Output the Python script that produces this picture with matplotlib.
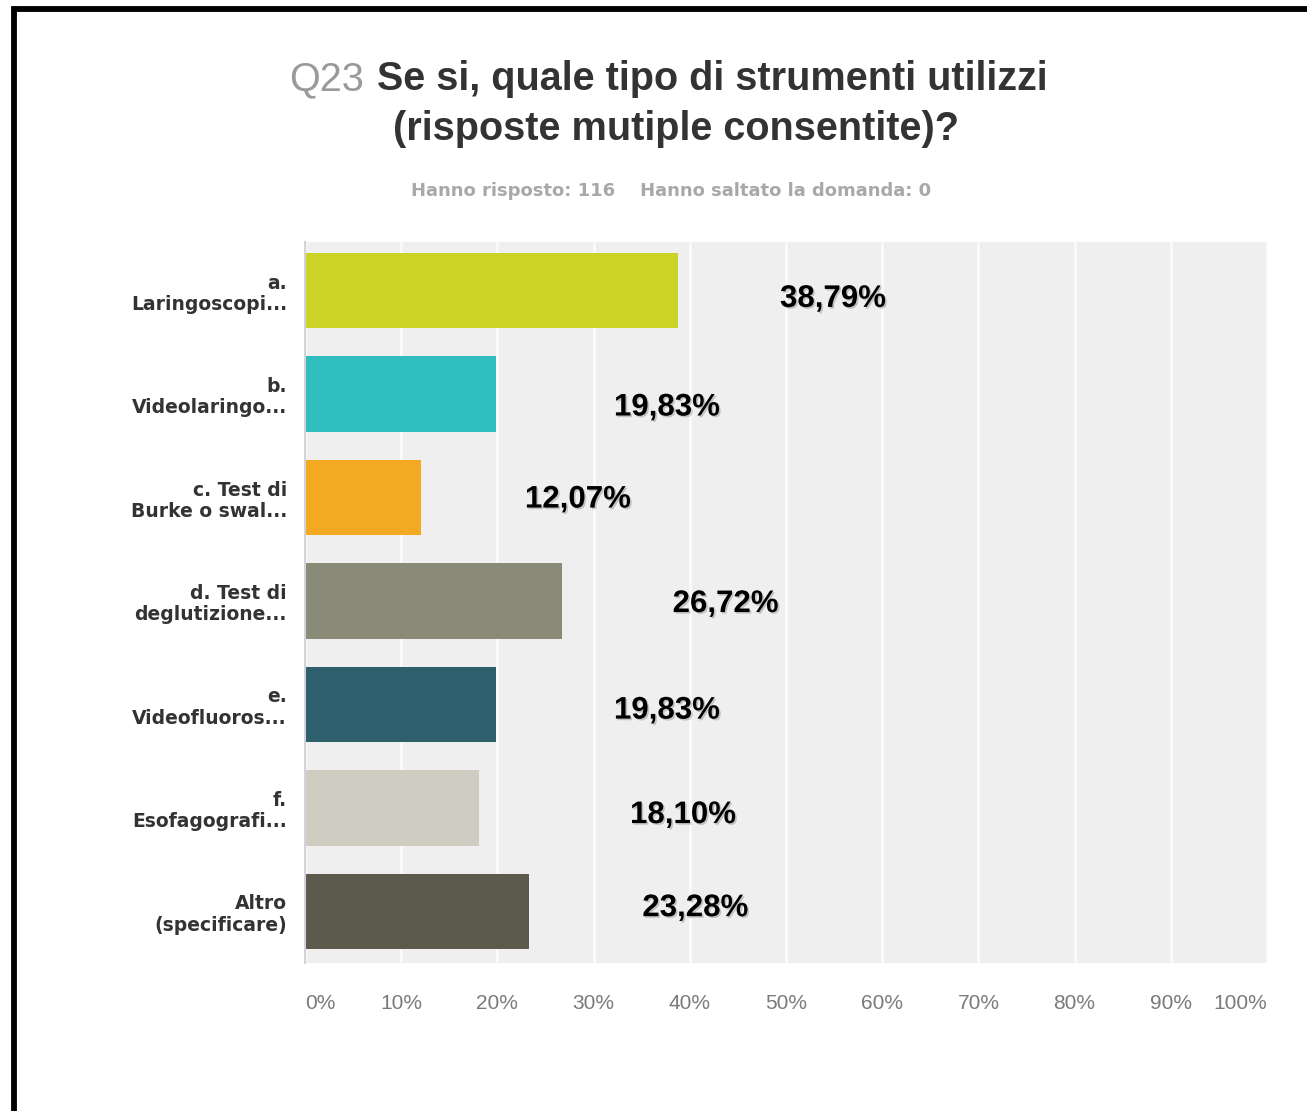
import matplotlib
matplotlib.use("Agg")
import matplotlib.pyplot as plt
import matplotlib.patheffects as pe
from matplotlib.lines import Line2D

categories = [
    "a.\nLaringoscopi...",
    "b.\nVideolaringo...",
    "c. Test di\nBurke o swal...",
    "d. Test di\ndeglutizione...",
    "e.\nVideofluoros...",
    "f.\nEsofagografi...",
    "Altro\n(specificare)",
]
values = [38.79, 19.83, 12.07, 26.72, 19.83, 18.10, 23.28]
colors = ["#cdd326", "#2fbdbe", "#f4a922", "#8a8a78", "#2d5f6c", "#cfcdc2", "#5c5a4c"]
ticks = [0, 10, 20, 30, 40, 50, 60, 70, 80, 90, 100]

# hand-placed value label offsets (percentage points right, bar units down)
label_dx = [16.1, 17.8, 16.3, 17.0, 17.8, 21.2, 17.3]
label_dy = [0.08, 0.13, 0.02, 0.03, 0.06, 0.07, -0.03]

W, H = 1307, 1111
fig = plt.figure(figsize=(W / 100, H / 100), dpi=100)
fig.patch.set_facecolor("white")

def px(x, y):
    return x / W, 1 - y / H

ax = fig.add_axes([305 / W, 1 - 963 / H, (1267 - 305) / W, (963 - 242) / H])
ax.set_facecolor("#efefef")

ypos = list(range(len(categories)))
ax.barh(ypos, values, height=0.73, color=colors, zorder=3)

ax.set_xlim(0, 100)
ax.set_ylim(len(categories) - 0.5, -0.47)
ax.set_xticks(ticks)
ax.set_xticklabels([f"{t}%" for t in ticks], fontfamily="Liberation Sans",
                   fontsize=15, color="#7a7a7a")
xl = ax.get_xticklabels()
xl[0].set_ha("left")
xl[-1].set_ha("right")
ax.set_yticks(ypos)
ax.set_yticklabels(categories, fontfamily="DejaVu Sans", fontweight="bold",
                   fontsize=13.5, color="#333333", linespacing=1.15)
ax.tick_params(axis="x", length=0, pad=22)
ax.tick_params(axis="y", length=0, pad=13)
ax.grid(axis="x", color="#fbfbfb", linewidth=1.8, zorder=1)
ax.grid(axis="y", visible=False)
for s in ["top", "right", "bottom"]:
    ax.spines[s].set_visible(False)
ax.spines["left"].set_color("#d2d2da")
ax.spines["left"].set_linewidth(1.5)
ax.spines["left"].set_zorder(4)

shadow = [pe.SimplePatchShadow(offset=(1.2, -1.2), shadow_rgbFace="#000000", alpha=0.18),
          pe.Normal()]
for i, v in enumerate(values):
    ax.text(v + label_dx[i], i + label_dy[i], f"{v:.2f}%".replace(".", ","),
            ha="center", va="center", fontfamily="Liberation Sans",
            fontweight="bold", fontsize=22.5, color="black", zorder=5,
            path_effects=shadow)

# title, two lines, with the question number in light grey
fig.text(*px(364, 90), "Q23", ha="right", va="baseline",
         fontfamily="Liberation Sans", fontsize=28.5, color="#9a9a9a")
fig.text(*px(377, 90), "Se si, quale tipo di strumenti utilizzi", ha="left",
         va="baseline", fontfamily="Liberation Sans", fontweight="bold",
         fontsize=28.5, color="#333333")
fig.text(*px(676, 140), "(risposte mutiple consentite)?", ha="center",
         va="baseline", fontfamily="Liberation Sans", fontweight="bold",
         fontsize=28.5, color="#333333")
fig.text(*px(671, 196), "Hanno risposto: 116    Hanno saltato la domanda: 0",
         ha="center", va="baseline", fontfamily="DejaVu Sans",
         fontweight="bold", fontsize=13, color="#a8a8a8")

# frame along the top and left edges
fig.add_artist(Line2D([14 / W, 14 / W, 1.0], [0.0, 1 - 9 / H, 1 - 9 / H],
                      transform=fig.transFigure, color="black", linewidth=4.2,
                      solid_joinstyle="miter", solid_capstyle="butt"))

fig.savefig("out.png", dpi=100)
